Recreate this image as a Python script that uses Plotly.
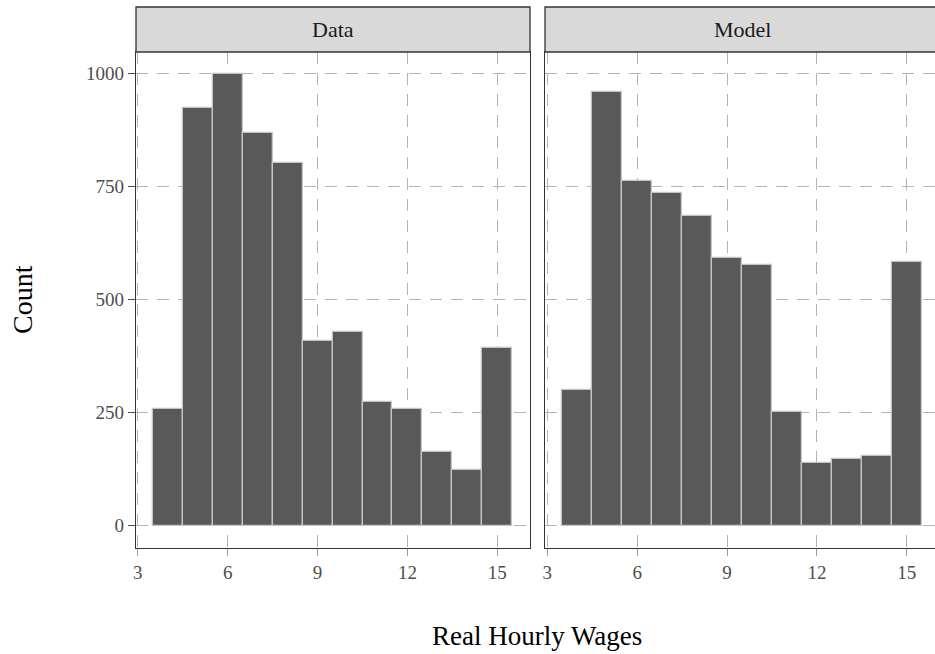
import plotly.graph_objects as go

# Histogram bins: unit-width bins centred on whole dollar values
wage_bins = [4, 5, 6, 7, 8, 9, 10, 11, 12, 13, 14, 15]
data_counts = [258, 925, 999, 869, 803, 409, 429, 274, 258, 162, 122, 394]
model_counts = [300, 960, 763, 737, 685, 593, 577, 252, 139, 148, 153, 583]

panel_names = ["Data", "Model"]
x_ticks = [3, 6, 9, 12, 15]
y_ticks = [0, 250, 500, 750, 1000]

W, H = 935, 654
L, R, T, B = 136, 0, 52, 106
pw, ph = W - L - R, H - T - B


def px_x(p):
    return (p - L) / pw


def px_y(p):
    return (H - B - p) / ph


dom1 = [0, px_x(530)]
dom2 = [px_x(545), 1]

FONT = "Liberation Serif"
BAR_FILL = "#595959"
BAR_EDGE = "#c4c4c4"
GRID = "#b3b3b3"
FRAME = "#333333"

fig = go.Figure()
for counts, xa, ya in [(data_counts, "x", "y"), (model_counts, "x2", "y2")]:
    fig.add_trace(go.Bar(
        x=wage_bins, y=counts, width=1,
        marker=dict(color=BAR_FILL, line=dict(color=BAR_EDGE, width=1.3)),
        xaxis=xa, yaxis=ya, showlegend=False, hoverinfo="x+y",
    ))

tick_font = dict(family=FONT, size=19, color="#4d4d4d")
common_x = dict(
    tickvals=x_ticks, ticks="outside", ticklen=7, tickwidth=1.3, tickcolor="#9a9a9a",
    showgrid=True, gridcolor=GRID, gridwidth=1.3, griddash="12px,9px",
    zeroline=False, tickfont=tick_font, showline=True, linecolor=FRAME,
    linewidth=1.3, mirror=True,
)
common_y = dict(
    range=[-49.5, 1048], tickvals=y_ticks,
    showgrid=True, gridcolor=GRID, gridwidth=1.3, griddash="12px,9px",
    zeroline=False, tickfont=tick_font, showline=True, linecolor=FRAME,
    linewidth=1.3,
)

fig.update_layout(
    width=W, height=H,
    margin=dict(l=L, r=R, t=T, b=B),
    paper_bgcolor="white", plot_bgcolor="white",
    bargap=0,
    font=dict(family=FONT, color="#1a1a1a"),
    xaxis=dict(domain=dom1, range=[2.94, 16.09], anchor="y", **common_x),
    yaxis=dict(domain=[0, 1], anchor="x", ticks="outside", ticklen=7, tickwidth=1.3,
               tickcolor="#4d4d4d", mirror=True, **common_y),
    xaxis2=dict(domain=dom2, range=[2.923, 15.94], anchor="y2", **common_x),
    yaxis2=dict(domain=[0, 1], anchor="x2", ticks="", showticklabels=False,
                mirror=False, **common_y),
)

# Facet strips
strip_top = px_y(7)
shapes = []
annotations = []
for name, (x0, x1) in zip(panel_names, [(dom1[0], dom1[1]), (dom2[0], px_x(940))]):
    shapes.append(dict(type="rect", xref="paper", yref="paper", x0=x0, x1=x1,
                       y0=1, y1=strip_top, fillcolor="#d9d9d9",
                       line=dict(color=FRAME, width=1.3), layer="above"))
    annotations.append(dict(text=name, xref="paper", yref="paper",
                            x=(x0 + x1) / 2, y=(1 + strip_top) / 2,
                            xanchor="center", yanchor="middle", showarrow=False,
                            font=dict(family=FONT, size=22, color="#1a1a1a")))

annotations.append(dict(text="Real Hourly Wages", xref="paper", yref="paper",
                        x=px_x(537), y=px_y(636), xanchor="center", yanchor="middle",
                        showarrow=False, font=dict(family=FONT, size=27, color="black")))
annotations.append(dict(text="Count", xref="paper", yref="paper",
                        x=px_x(22), y=px_y(300), xanchor="center", yanchor="middle",
                        textangle=-90, showarrow=False,
                        font=dict(family=FONT, size=28, color="black")))

fig.update_layout(shapes=shapes, annotations=annotations)
fig.write_html("out.html")
